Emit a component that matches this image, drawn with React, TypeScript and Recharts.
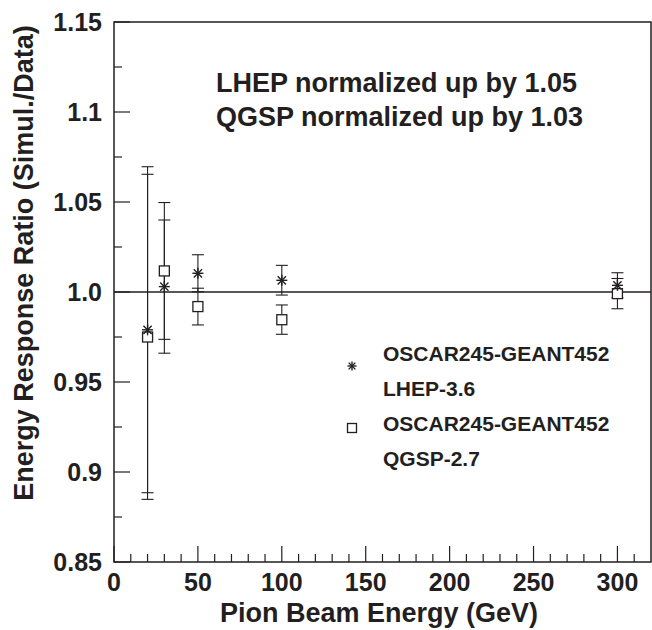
import React from 'react';
import {
  ComposedChart,
  Scatter,
  ErrorBar,
  XAxis,
  YAxis,
  ReferenceLine,
  ReferenceArea
} from 'recharts';

// beam energies (GeV)
const energies = [20, 30, 50, 100, 300];

// OSCAR245-GEANT452 LHEP-3.6 (stars)
const lhepRatio = [0.979, 1.003, 1.0104, 1.0065, 1.0037];
const lhepErrLow = [0.0905, 0.037, 0.0103, 0.0082, 0.007];
const lhepErrHigh = [0.0864, 0.037, 0.0103, 0.0083, 0.007];

// OSCAR245-GEANT452 QGSP-2.7 (open squares)
const qgspRatio = [0.975, 1.0117, 0.9919, 0.9846, 0.9991];
const qgspErrLow = [0.0902, 0.038, 0.0102, 0.0081, 0.0084];
const qgspErrHigh = [0.0946, 0.038, 0.0102, 0.0082, 0.0084];

const xMajorTicks = [0, 50, 100, 150, 200, 250, 300];
const xMinorTicks = [0, 10, 20, 30, 40, 50, 60, 70, 80, 90, 100, 110, 120, 130, 140, 150, 160, 170, 180, 190, 200, 210, 220, 230, 240, 250, 260, 270, 280, 290, 300, 310];
const yMajorTicks = [0.85, 0.9, 0.95, 1.0, 1.05, 1.1, 1.15];
const yMajorLabels = ['0.85', '0.9', '0.95', '1.0', '1.05', '1.1', '1.15'];
const yMinorTicks = [0.85, 0.875, 0.9, 0.925, 0.95, 0.975, 1.0, 1.025, 1.05, 1.075, 1.1, 1.125, 1.15];

const annotations = ['LHEP normalized up by 1.05', 'QGSP normalized up by 1.03'];
const legendLines = ['OSCAR245-GEANT452', 'LHEP-3.6', 'OSCAR245-GEANT452', 'QGSP-2.7'];

const lhepData = energies.map((x, i) => ({ x, y: lhepRatio[i], err: [lhepErrLow[i], lhepErrHigh[i]] }));
const qgspData = energies.map((x, i) => ({ x, y: qgspRatio[i], err: [qgspErrLow[i], qgspErrHigh[i]] }));

const W = 652;
const H = 630;
const PLOT_LEFT = 114;
const PLOT_TOP = 22;
const PLOT_BOTTOM = 562;
const FONT = "'Liberation Sans', Arial, Helvetica, sans-serif";
const INK = '#231f20';

const StarMark = ({ cx, cy, r = 5.5 }: any) => {
  const d = r * 0.75;
  return (
    <g stroke={INK} strokeWidth={1.4}>
      <line x1={cx - r} y1={cy} x2={cx + r} y2={cy} />
      <line x1={cx} y1={cy - r} x2={cx} y2={cy + r} />
      <line x1={cx - d} y1={cy - d} x2={cx + d} y2={cy + d} />
      <line x1={cx - d} y1={cy + d} x2={cx + d} y2={cy - d} />
    </g>
  );
};

const SquareMark = ({ cx, cy, s = 10 }: any) => (
  <rect x={cx - s / 2} y={cy - s / 2} width={s} height={s} fill="#fff" stroke={INK} strokeWidth={1.3} />
);

const XTick = ({ x, payload }: any) => {
  const v = payload.value;
  const major = xMajorTicks.includes(v);
  return (
    <g>
      <line x1={x} y1={PLOT_BOTTOM} x2={x} y2={PLOT_BOTTOM - (major ? 16 : 8)} stroke={INK} strokeWidth={1.2} />
      {major && (
        <text x={x} y={PLOT_BOTTOM + 29} textAnchor="middle" fontFamily={FONT} fontWeight="bold" fontSize={25} fill={INK}>
          {v}
        </text>
      )}
    </g>
  );
};

const YTick = ({ y, payload }: any) => {
  const v = payload.value;
  const idx = yMajorTicks.findIndex((t) => Math.abs(t - v) < 1e-6);
  const major = idx >= 0;
  return (
    <g>
      <line x1={PLOT_LEFT} y1={y} x2={PLOT_LEFT + (major ? 16 : 8)} y2={y} stroke={INK} strokeWidth={1.2} />
      {major && (
        <text x={PLOT_LEFT - 12} y={y + 9} textAnchor="end" fontFamily={FONT} fontWeight="bold" fontSize={25} fill={INK}>
          {yMajorLabels[idx]}
        </text>
      )}
    </g>
  );
};

export default function App() {
  return (
    <div style={{ position: 'relative', width: W, height: H, background: '#fff' }}>
      <style>{'body{margin:0}'}</style>
      <ComposedChart width={W} height={H} margin={{ top: PLOT_TOP, right: 1, bottom: 0, left: 0 }}>
        <XAxis
          type="number"
          dataKey="x"
          domain={[0, 320]}
          ticks={xMinorTicks}
          interval={0}
          tick={<XTick />}
          tickLine={false}
          axisLine={false}
          height={H - PLOT_BOTTOM}
          allowDataOverflow
        />
        <YAxis
          type="number"
          dataKey="y"
          domain={[0.85, 1.15]}
          ticks={yMinorTicks}
          interval={0}
          tick={<YTick />}
          tickLine={false}
          axisLine={false}
          width={PLOT_LEFT}
          allowDataOverflow
        />
        <ReferenceArea x1={0} x2={320} y1={0.85} y2={1.15} fill="none" stroke={INK} strokeWidth={1.5} />
        <ReferenceLine y={1.0} stroke={INK} strokeWidth={1.5} />
        <Scatter data={qgspData} isAnimationActive={false} shape={<SquareMark />}>
          <ErrorBar dataKey="err" direction="y" width={6} stroke={INK} strokeWidth={1.1} />
        </Scatter>
        <Scatter data={lhepData} isAnimationActive={false} shape={<StarMark />}>
          <ErrorBar dataKey="err" direction="y" width={6} stroke={INK} strokeWidth={1.1} />
        </Scatter>
      </ComposedChart>
      <svg width={W} height={H} style={{ position: 'absolute', left: 0, top: 0, pointerEvents: 'none' }}>
        {annotations.map((t, i) => (
          <text key={i} x={216} y={92 + i * 34} fontFamily={FONT} fontWeight="bold" fontSize={27} fill={INK}>
            {t}
          </text>
        ))}
        <g>
          <StarMark cx={352} cy={366} r={4.5} />
          <SquareMark cx={352} cy={428} s={9} />
          {legendLines.map((t, i) => (
            <text key={i} x={383} y={361 + i * 35} fontFamily={FONT} fontWeight="bold" fontSize={21} fill={INK}>
              {t}
            </text>
          ))}
        </g>
        <text x={379} y={622} textAnchor="middle" fontFamily={FONT} fontWeight="bold" fontSize={27} fill={INK}>
          Pion Beam Energy (GeV)
        </text>
        <text
          transform="translate(33, 263) rotate(-90)"
          textAnchor="middle"
          fontFamily={FONT}
          fontWeight="bold"
          fontSize={27}
          fill={INK}
        >
          Energy Response Ratio (Simul./Data)
        </text>
      </svg>
    </div>
  );
}
